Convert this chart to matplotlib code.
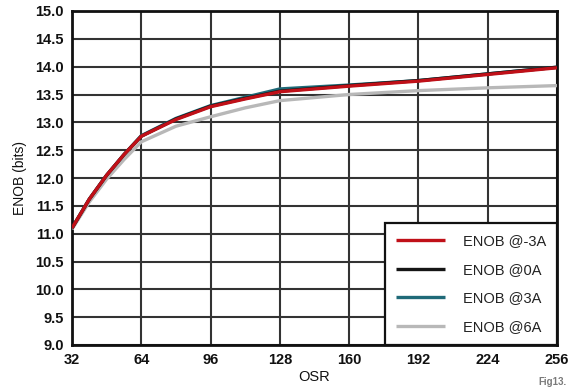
import matplotlib
matplotlib.use("Agg")
import matplotlib.pyplot as plt

osr = [32, 40, 48, 56, 64, 80, 96, 112, 128, 160, 192, 224, 256]
enob_m3a = [11.10, 11.62, 12.05, 12.42, 12.75, 13.05, 13.28, 13.42, 13.55, 13.65, 13.74, 13.86, 13.98]
enob_0a  = [11.10, 11.62, 12.05, 12.42, 12.75, 13.06, 13.29, 13.43, 13.56, 13.66, 13.75, 13.87, 13.99]
enob_3a  = [11.10, 11.62, 12.05, 12.42, 12.76, 13.07, 13.30, 13.45, 13.60, 13.67, 13.75, 13.87, 13.99]
enob_6a  = [11.08, 11.57, 11.98, 12.33, 12.65, 12.93, 13.10, 13.26, 13.39, 13.50, 13.57, 13.62, 13.66]

labels = ["ENOB @-3A", "ENOB @0A", "ENOB @3A", "ENOB @6A"]
colors = ["#c01018", "#151515", "#1f6a78", "#b8b8b8"]
xticks = [32, 64, 96, 128, 160, 192, 224, 256]
yticks = [9.0, 9.5, 10.0, 10.5, 11.0, 11.5, 12.0, 12.5, 13.0, 13.5, 14.0, 14.5, 15.0]

plt.rcParams['font.family'] = ['Liberation Sans', 'DejaVu Sans']

fig = plt.figure(figsize=(5.75, 3.91), dpi=100)
ax = fig.add_axes([72/575, 46/391, (557-72)/575, (345-11)/391])

series = [enob_m3a, enob_0a, enob_3a, enob_6a]
zorders = [6, 5, 4, 3]
handles = []
for y, lab, c, z in zip(series, labels, colors, zorders):
    h, = ax.plot(osr, y, color=c, lw=2.4, label=lab, zorder=z, solid_capstyle='butt')
    handles.append(h)

ax.set_xlim(32, 256)
ax.set_ylim(9.0, 15.0)
ax.set_xticks(xticks)
ax.set_xticklabels([str(t) for t in xticks])
ax.set_yticks(yticks)
ax.set_yticklabels([f"{t:.1f}" for t in yticks])
ax.grid(True, color="#333333", lw=1.5, zorder=1)
ax.set_axisbelow(True)
ax.tick_params(length=0, pad=6, labelsize=10.5)
for lbl in ax.get_xticklabels() + ax.get_yticklabels():
    lbl.set_fontweight('bold')
    lbl.set_color('#111111')
for s in ax.spines.values():
    s.set_linewidth(2.0)
    s.set_color('#111111')

ax.set_xlabel("OSR", fontsize=10.5, labelpad=2, color='#111111')
ax.set_ylabel("ENOB (bits)", fontsize=10, labelpad=6, color='#111111')

leg = ax.legend(handles=handles, loc='lower right', fontsize=10.5, frameon=True,
                fancybox=False, borderaxespad=0, handlelength=3.4,
                handletextpad=1.2, labelspacing=1.0, borderpad=0.75)
leg.get_frame().set_edgecolor('#111111')
leg.get_frame().set_linewidth(1.6)
leg.get_frame().set_alpha(1)
leg.set_zorder(10)
for t in leg.get_texts():
    t.set_color('#222222')

fig.text(538/575, 1 - 382/391, "Fig13.", fontsize=7, color='#7a7a7a',
         fontweight='bold', va='center', ha='left')

fig.savefig("out.png", dpi=100)
